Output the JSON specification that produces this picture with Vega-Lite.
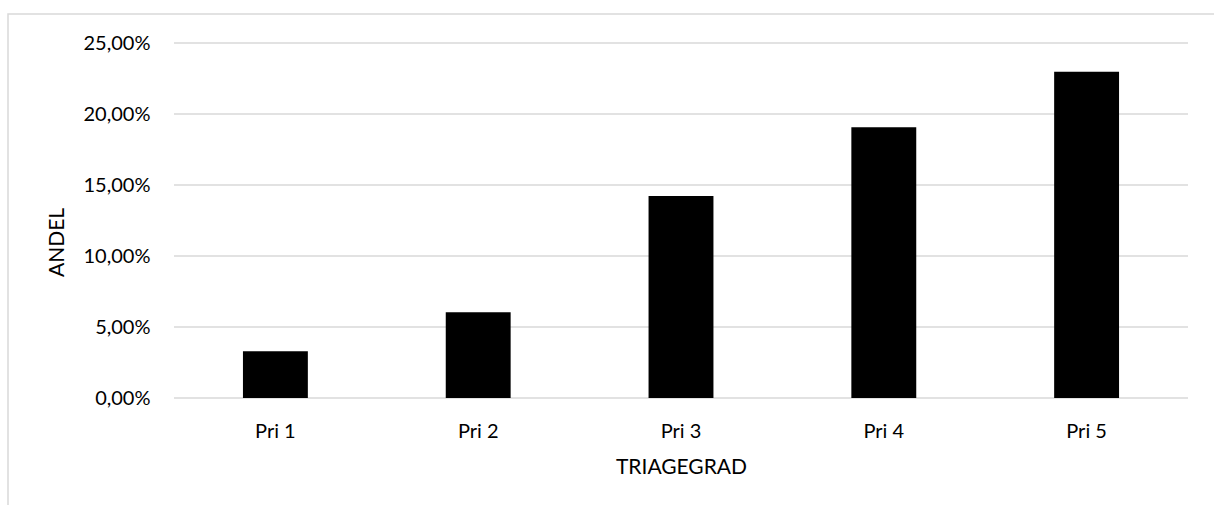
{
  "$schema": "https://vega.github.io/schema/vega-lite/v6.json",
  "width": 1209,
  "height": 494,
  "autosize": {"type": "none"},
  "padding": {"left": 8, "top": 14, "right": -3, "bottom": -3},
  "background": "white",
  "config": {
    "font": "Lato",
    "view": {"stroke": "#d9d9d9", "strokeWidth": 1.5}
  },
  "datasets": {
    "shares": [
      {"triagegrad": "Pri 1", "andel": 0.0329},
      {"triagegrad": "Pri 2", "andel": 0.0604},
      {"triagegrad": "Pri 3", "andel": 0.1422},
      {"triagegrad": "Pri 4", "andel": 0.1906},
      {"triagegrad": "Pri 5", "andel": 0.2297}
    ],
    "gridlines": [
      {"andel": 0},
      {"andel": 0.05},
      {"andel": 0.1},
      {"andel": 0.15},
      {"andel": 0.2},
      {"andel": 0.25}
    ]
  },
  "layer": [
    {
      "data": {"name": "gridlines"},
      "mark": {"type": "rule", "color": "#d9d9d9", "strokeWidth": 1.5},
      "encoding": {
        "y": {
          "field": "andel",
          "type": "quantitative",
          "title": "ANDEL",
          "scale": {"domain": [0, 0.25], "range": [384, 29], "nice": false},
          "axis": {
            "offset": -166,
            "values": [0, 0.05, 0.1, 0.15, 0.2, 0.25],
            "labelExpr": "replace(format(datum.value, '.2%'), '.', ',')",
            "grid": false,
            "domain": false,
            "ticks": false,
            "labelPadding": 24,
            "labelFontSize": 20,
            "labelColor": "#000000",
            "titleFontSize": 21,
            "titleFontWeight": "normal",
            "titleColor": "#000000",
            "titleAngle": -90,
            "titleAlign": "center",
            "titleBaseline": "middle",
            "titleX": -117,
            "titleY": 228
          }
        },
        "x": {
          "datum": 0,
          "type": "quantitative",
          "scale": {"domain": [0, 1], "range": [166, 1180]},
          "axis": null
        },
        "x2": {"datum": 1}
      }
    },
    {
      "data": {"name": "shares"},
      "mark": {"type": "bar", "color": "#000000"},
      "encoding": {
        "x": {
          "field": "triagegrad",
          "type": "nominal",
          "sort": null,
          "title": "TRIAGEGRAD",
          "scale": {"range": [166, 1180], "paddingInner": 0.68, "paddingOuter": 0.34},
          "axis": {
            "offset": -110,
            "labelAngle": 0,
            "grid": false,
            "domain": false,
            "ticks": false,
            "labelBaseline": "alphabetic",
            "labelPadding": 39,
            "labelFontSize": 20,
            "labelColor": "#000000",
            "titleFontSize": 21,
            "titleFontWeight": "normal",
            "titleColor": "#000000",
            "titleBaseline": "alphabetic",
            "titleY": 75
          }
        },
        "y": {"field": "andel", "type": "quantitative", "title": "ANDEL"}
      }
    }
  ],
  "resolve": {"scale": {"x": "independent"}, "axis": {"x": "independent"}}
}
